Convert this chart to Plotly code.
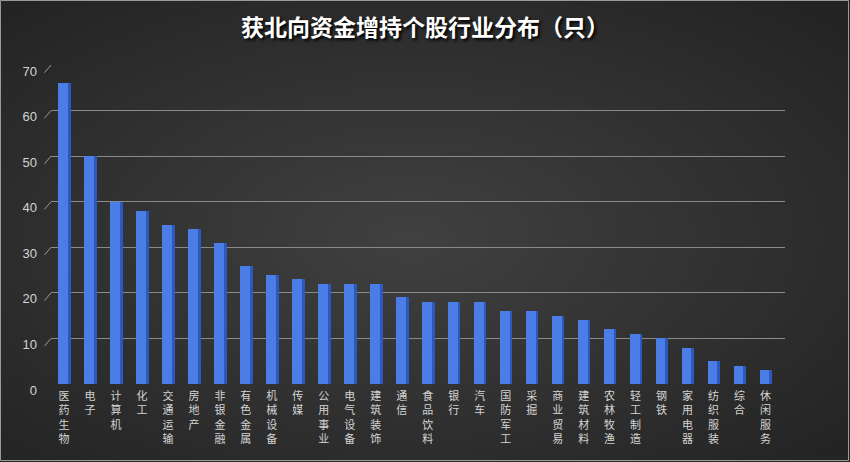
import plotly.graph_objects as go

# 行业分类及获北向资金增持个股数（只）
industries = ["医药生物", "电子", "计算机", "化工", "交通运输", "房地产", "非银金融",
              "有色金属", "机械设备", "传媒", "公用事业", "电气设备", "建筑装饰", "通信",
              "食品饮料", "银行", "汽车", "国防军工", "采掘", "商业贸易", "建筑材料",
              "农林牧渔", "轻工制造", "钢铁", "家用电器", "纺织服装", "综合", "休闲服务"]
counts = [66, 50, 40, 38, 35, 34, 31, 26, 24, 23, 22, 22, 22, 19,
          18, 18, 18, 16, 16, 15, 14, 12, 11, 10, 8, 5, 4, 3]
y_ticks = [0, 10, 20, 30, 40, 50, 60, 70]

TITLE = "获北向资金增持个股行业分布（只）"
CJK = "Noto Sans CJK SC"

W, H = 850, 462
ML, MR, MT, MB = 51, 65, 65, 78

x = list(range(len(industries)))
vertical_labels = ["<br>".join(name) for name in industries]

fig = go.Figure()

# bar front face + darker right side to fake the 3D column look
fig.add_trace(go.Bar(x=x, y=counts, width=0.38, offset=-0.23,
                     marker=dict(color="#4a7de6", line=dict(width=0)),
                     hoverinfo="y", showlegend=False))
fig.add_trace(go.Bar(x=x, y=counts, width=0.11, offset=0.15,
                     marker=dict(color="#2d59bd", line=dict(width=0)),
                     hoverinfo="skip", showlegend=False))

pw, ph = W - ML - MR, H - MT - MB
shapes = []
# radial-ish background glow: stacked translucent ellipses
n = 28
for k in range(n):
    f = 1 - k / n
    shapes.append(dict(type="circle", xref="paper", yref="paper", layer="below",
                       x0=0.49 - 0.78 * f, x1=0.49 + 0.78 * f,
                       y0=0.46 - 0.95 * f, y1=0.46 + 0.95 * f,
                       fillcolor="rgba(255,255,255,0.0085)", line=dict(width=0)))
# thin light frame round the whole picture
shapes.append(dict(type="rect", xref="paper", yref="paper", layer="below",
                   x0=-(ML - 0.5) / pw, x1=1 + (MR - 1.5) / pw,
                   y0=-(MB - 1.5) / ph, y1=1 + (MT - 0.5) / ph,
                   line=dict(color="#9a9a9a", width=1)))
# little slanted ticks in front of each gridline
for v in y_ticks:
    shapes.append(dict(type="line", xref="paper", yref="y", layer="below",
                       x0=-0.009, x1=0.0, y0=v - 1.7, y1=v,
                       line=dict(color="#9a9a9a", width=1)))

fig.update_layout(
    width=W, height=H,
    margin=dict(l=ML, r=MR, t=MT, b=MB),
    paper_bgcolor="#242424",
    plot_bgcolor="rgba(0,0,0,0)",
    barmode="overlay",
    bargap=0,
    title=dict(text=TITLE, x=0.5, xanchor="center", y=0.94, yanchor="middle",
               font=dict(family=CJK, size=23, color="#ffffff", weight="bold",
                         shadow="2px 2px 3px #000000")),
    xaxis=dict(range=[-0.5, 27.75], tickmode="array", tickvals=x,
               ticktext=vertical_labels, showgrid=False, zeroline=False,
               showline=False, ticks="", ticklabelstandoff=4,
               tickfont=dict(family=CJK, size=11, color="#d4d4d4")),
    yaxis=dict(range=[0, 70], tickmode="array", tickvals=y_ticks,
               showgrid=True, gridcolor="#8a8a8a", gridwidth=1,
               zeroline=False, showline=False, ticks="", ticklabelstandoff=13,
               ticklabelshift=6,
               tickfont=dict(family="Liberation Sans", size=13, color="#d4d4d4")),
    shapes=shapes,
)

fig.write_html("out.html", config={"displayModeBar": False},
               post_script="document.body.style.margin='0';")
